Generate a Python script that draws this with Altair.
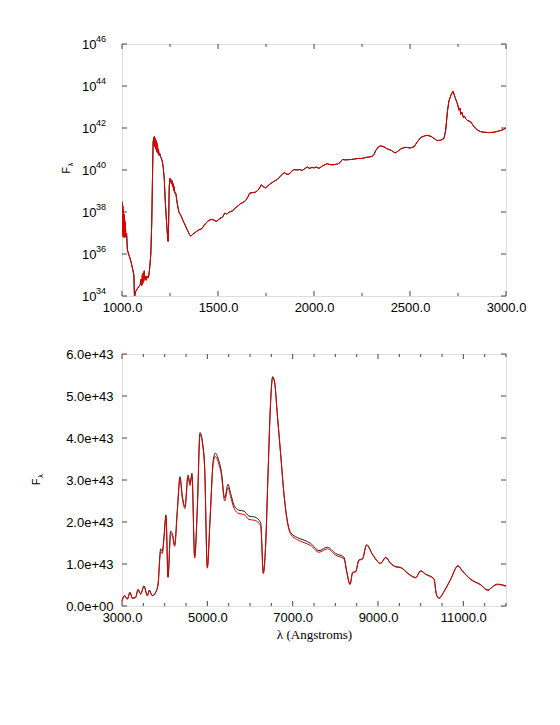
import altair as alt
import pandas as pd

# ---------------- data ----------------
TOP_WL = [1000, 1001, 1002, 1003, 1004, 1005, 1006, 1007, 1008, 1009, 1010, 1011, 1012, 1013, 1014, 1015,
          1016, 1017, 1018, 1020, 1024, 1028, 1036, 1045, 1055, 1062, 1065, 1070, 1080, 1088, 1095, 1100,
          1103, 1106, 1108, 1110, 1113, 1116, 1119, 1122, 1126, 1130, 1135, 1140, 1145, 1150, 1155, 1158,
          1162, 1165, 1167, 1169, 1171, 1173, 1175, 1177, 1179, 1181, 1183, 1185, 1187, 1190, 1193, 1196,
          1200, 1205, 1210, 1215, 1220, 1225, 1230, 1236, 1240, 1243, 1246, 1250, 1254, 1257, 1260, 1263,
          1266, 1269, 1272, 1275, 1280, 1288, 1296, 1306, 1315, 1325, 1340, 1350, 1358, 1370, 1385, 1400,
          1415, 1427, 1440, 1453, 1466, 1479, 1490, 1500, 1510, 1523, 1535, 1545, 1560, 1575, 1592, 1605,
          1618, 1630, 1644, 1655, 1665, 1680, 1696, 1710, 1720, 1726, 1735, 1748, 1760, 1774, 1790, 1809,
          1825, 1844, 1858, 1870, 1885, 1896, 1910, 1925, 1940, 1950, 1965, 1975, 1990, 2000, 2012, 2026,
          2045, 2069, 2080, 2100, 2122, 2135, 2148, 2165, 2191, 2210, 2230, 2250, 2270, 2290, 2304, 2313,
          2321, 2335, 2347, 2365, 2382, 2400, 2415, 2425, 2438, 2451, 2465, 2477, 2500, 2521, 2535, 2556,
          2575, 2590, 2610, 2625, 2642, 2660, 2677, 2686, 2695, 2703, 2715, 2724, 2735, 2747, 2755, 2760,
          2764, 2770, 2778, 2785, 2790, 2800, 2816, 2830, 2851, 2870, 2885, 2910, 2938, 2960, 2980, 3000]
TOP_EXP = [38.5, 37.2, 38.4, 36.9, 38.3, 37.1, 38.1, 36.8, 38.0, 37.0, 37.9, 36.9, 37.8, 36.8, 37.6, 37.0,
           37.5, 36.8, 37.3, 36.9, 37.0, 36.2, 35.95, 35.7, 35.3, 35.0, 33.9, 34.2, 34.35, 34.45, 34.55, 34.8,
           34.5, 35.0, 34.6, 35.1, 34.7, 35.2, 34.8, 34.95, 34.75, 34.95, 34.85, 35.0, 35.4, 36.0, 37.5, 39.2,
           41.3, 41.55, 41.2, 41.6, 41.1, 41.5, 41.0, 41.4, 40.95, 41.3, 40.85, 41.2, 40.8, 41.0, 40.7, 40.8,
           40.65, 40.55, 40.4, 40.1, 39.6, 38.6, 37.8, 37.0, 36.6, 37.5, 39.2, 39.6, 39.55, 39.35, 39.5, 39.2,
           39.35, 39.0, 39.2, 38.9, 38.9, 38.4, 38.0, 37.85, 37.65, 37.45, 37.15, 36.95, 36.85, 36.95, 37.05, 37.15,
           37.2, 37.35, 37.5, 37.6, 37.65, 37.62, 37.55, 37.6, 37.7, 37.75, 37.95, 37.9, 38.0, 38.05, 38.2, 38.3,
           38.4, 38.45, 38.55, 38.7, 38.9, 38.92, 38.95, 39.05, 39.2, 39.3, 39.2, 39.15, 39.25, 39.35, 39.45, 39.55,
           39.7, 39.88, 39.8, 39.8, 39.95, 40.02, 40.0, 40.02, 39.98, 40.05, 40.15, 40.08, 40.12, 40.1, 40.14, 40.08,
           40.2, 40.3, 40.26, 40.25, 40.28, 40.35, 40.5, 40.48, 40.5, 40.52, 40.55, 40.55, 40.6, 40.62, 40.65, 40.75,
           40.92, 41.1, 41.15, 41.1, 41.0, 40.95, 40.85, 40.82, 40.9, 41.0, 41.05, 41.08, 41.05, 41.1, 41.3, 41.55,
           41.62, 41.65, 41.6, 41.5, 41.4, 41.42, 41.5, 41.9, 42.8, 43.3, 43.6, 43.75, 43.45, 43.15, 42.85, 42.95,
           42.65, 42.75, 42.5, 42.55, 42.45, 42.35, 42.3, 42.1, 41.9, 41.82, 41.8, 41.78, 41.8, 41.85, 41.9, 42.0]

BOT_WL = [3000, 3062, 3125, 3187, 3242, 3320, 3375, 3437, 3515, 3594, 3640, 3711, 3789, 3844, 3906, 3945,
          3984, 4031, 4078, 4140, 4187, 4234, 4297, 4359, 4414, 4476, 4547, 4594, 4640, 4703, 4766, 4828,
          4890, 4937, 5000, 5062, 5140, 5187, 5273, 5328, 5406, 5484, 5547, 5625, 5742, 5859, 5976, 6109,
          6250, 6312, 6367, 6422, 6484, 6531, 6578, 6640, 6719, 6797, 6875, 6953, 7109, 7265, 7422, 7617,
          7812, 8008, 8203, 8265, 8344, 8406, 8476, 8554, 8633, 8734, 8867, 9062, 9180, 9297, 9414, 9531,
          9726, 9883, 10000, 10117, 10312, 10367, 10430, 10547, 10703, 10875, 10976, 11172, 11406, 11578,
          11680, 11797, 12000]
BOT_BLACK = [0.13, 0.25, 0.17, 0.33, 0.19, 0.21, 0.40, 0.29, 0.48, 0.25, 0.38, 0.25, 0.33, 0.52, 1.36, 1.30,
             1.66, 2.17, 0.70, 1.78, 1.70, 1.46, 2.30, 3.08, 2.62, 2.37, 3.12, 2.93, 3.16, 1.18, 2.37, 4.13,
             3.88, 3.32, 0.93, 2.05, 3.48, 3.64, 3.45, 3.21, 2.57, 2.90, 2.68, 2.40, 2.28, 2.26, 2.14, 2.12,
             1.98, 0.80, 1.48, 3.14, 4.89, 5.46, 5.33, 4.57, 3.62, 2.67, 2.03, 1.75, 1.63, 1.57, 1.49, 1.32,
             1.40, 1.25, 1.16, 0.84, 0.52, 0.80, 0.82, 1.10, 1.12, 1.46, 1.24, 1.02, 1.16, 1.02, 0.94, 0.92,
             0.76, 0.68, 0.84, 0.76, 0.65, 0.29, 0.19, 0.35, 0.64, 0.96, 0.84, 0.64, 0.51, 0.38,
             0.46, 0.52, 0.48]
BOT_RED = [0.12, 0.24, 0.16, 0.32, 0.18, 0.20, 0.38, 0.28, 0.46, 0.24, 0.36, 0.24, 0.32, 0.50, 1.30, 1.25,
           1.60, 2.12, 0.68, 1.72, 1.64, 1.42, 2.25, 3.03, 2.56, 2.32, 3.06, 2.87, 3.10, 1.14, 2.32, 4.08,
           3.83, 3.27, 0.90, 2.00, 3.42, 3.56, 3.37, 3.13, 2.50, 2.82, 2.60, 2.33, 2.20, 2.18, 2.06, 2.04,
           1.91, 0.77, 1.45, 3.12, 4.87, 5.44, 5.31, 4.55, 3.60, 2.64, 2.00, 1.71, 1.58, 1.51, 1.44, 1.28,
           1.36, 1.21, 1.12, 0.82, 0.51, 0.79, 0.81, 1.09, 1.11, 1.45, 1.23, 1.01, 1.15, 1.01, 0.93, 0.91,
           0.75, 0.67, 0.83, 0.75, 0.64, 0.28, 0.18, 0.34, 0.63, 0.95, 0.83, 0.63, 0.50, 0.37,
           0.45, 0.51, 0.47]

TOP_X_MAJOR = [1000, 1500, 2000, 2500, 3000]
TOP_X_MINOR = [1250, 1750, 2250, 2750]
TOP_Y_EXP = [34, 36, 38, 40, 42, 44, 46]
BOT_X_MAJOR = [3000, 5000, 7000, 9000, 11000]
BOT_X_MINOR = [3500, 4000, 4500, 5500, 6000, 6500, 7500, 8000, 8500, 9500, 10000, 10500, 11500, 12000]
BOT_Y_MAJOR = [0, 1, 2, 3, 4, 5, 6]  # units of 1e43

W, H = 384, 252
FONT = "Liberation Sans"
TICK_COLOR = "#444444"
RED = "#e00000"

top_df = pd.DataFrame({"wl": TOP_WL, "F": [10 ** e for e in TOP_EXP]})
bot_df = pd.DataFrame({"wl": BOT_WL,
                       "black": [v * 1e43 for v in BOT_BLACK],
                       "red": [v * 1e43 for v in BOT_RED]})


def tick_layers(xs_major, xs_minor, ys_major, xscale, yscale, xaxis, yaxis, maj=5, mnr=3):
    layers = []

    def xrule(vals, length, top):
        df = pd.DataFrame({"v": vals})
        y0 = 0 if top else H
        y1 = length if top else H - length
        return alt.Chart(df).mark_rule(color=TICK_COLOR, strokeWidth=1).encode(
            x=alt.X("v:Q", scale=xscale, axis=xaxis), y=alt.value(y0), y2=alt.value(y1))

    def yrule(vals, length, right):
        df = pd.DataFrame({"v": vals})
        x0 = W if right else 0
        x1 = W - length if right else length
        return alt.Chart(df).mark_rule(color=TICK_COLOR, strokeWidth=1).encode(
            y=alt.Y("v:Q", scale=yscale, axis=yaxis), x=alt.value(x0), x2=alt.value(x1))

    for top in (False, True):
        layers.append(xrule(xs_major, maj, top))
        if xs_minor:
            layers.append(xrule(xs_minor, mnr, top))
    for right in (False, True):
        layers.append(yrule(ys_major, maj, right))
    return layers


def ytitle(xoff, yoff):
    f = alt.Chart(alt.Data(values=[{"t": "F"}])).mark_text(
        angle=270, font=FONT, fontSize=11, align="center", baseline="middle", color="black"
    ).encode(x=alt.value(xoff), y=alt.value(yoff), text="t:N")
    lam = alt.Chart(alt.Data(values=[{"t": "λ"}])).mark_text(
        angle=270, font=FONT, fontSize=7, align="center", baseline="middle", color="black"
    ).encode(x=alt.value(xoff + 4), y=alt.value(yoff - 6), text="t:N")
    return [f, lam]


# ---------------- top panel ----------------
tx = alt.Scale(domain=[1000, 3000], nice=False, zero=False)
ty = alt.Scale(type="log", domain=[1e34, 1e46], nice=False)

top_x_axis = alt.Axis(values=TOP_X_MAJOR, format=".1f", title=None, ticks=False, domain=False, grid=False,
                      labelFont=FONT, labelFontSize=13, labelColor="black", labelPadding=5,
                      labelFlush=False, labelOverlap=False)
top_y_axis = alt.Axis(values=[10 ** e for e in TOP_Y_EXP], labelExpr="'10'", title=None, ticks=False,
                      domain=False, grid=False, labelFont=FONT, labelFontSize=13, labelColor="black",
                      labelPadding=26, labelFlush=False, labelOverlap=False)

top_black = alt.Chart(top_df).mark_line(color="black", strokeWidth=1, clip=True).encode(
    x=alt.X("wl:Q", scale=tx, axis=top_x_axis), y=alt.Y("F:Q", scale=ty, axis=top_y_axis))
top_red = alt.Chart(top_df).mark_line(color=RED, strokeWidth=1, clip=True).encode(
    x=alt.X("wl:Q", scale=tx, axis=top_x_axis), y=alt.Y("F:Q", scale=ty, axis=top_y_axis))

exp_df = pd.DataFrame({"F": [10 ** e for e in TOP_Y_EXP], "t": [str(e) for e in TOP_Y_EXP]})
top_exp = alt.Chart(exp_df).mark_text(font=FONT, fontSize=9, align="left", baseline="alphabetic",
                                      dy=-2, color="black").encode(
    y=alt.Y("F:Q", scale=ty, axis=top_y_axis), x=alt.value(-26), text="t:N")

top = alt.layer(
    top_black, top_red, top_exp,
    *tick_layers(TOP_X_MAJOR, TOP_X_MINOR, [10 ** e for e in TOP_Y_EXP], tx, ty, top_x_axis, top_y_axis),
    *ytitle(-55, 126.5)
).properties(width=W, height=H)

# ---------------- bottom panel ----------------
bx = alt.Scale(domain=[3000, 12000], nice=False, zero=False)
by = alt.Scale(domain=[0, 6e43], nice=False)

bot_x_axis = alt.Axis(values=BOT_X_MAJOR, format=".1f", title="λ (Angstroms)", ticks=False, domain=False,
                      grid=False, labelFont=FONT, labelFontSize=13, labelColor="black", labelPadding=5,
                      labelFlush=False, labelOverlap=False, titleFont="Liberation Serif", titleFontSize=13,
                      titleFontWeight="normal", titleColor="black", titlePadding=4)
bot_y_axis = alt.Axis(values=[v * 1e43 for v in BOT_Y_MAJOR],
                      labelExpr="datum.value == 0 ? '0.0e+00' : format(datum.value, '.1e')",
                      title=None, ticks=False, domain=False, grid=False, labelFont=FONT, labelFontSize=13,
                      labelColor="black", labelPadding=9, labelFlush=False, labelOverlap=False)

bot_black = alt.Chart(bot_df).mark_line(color="#222222", strokeWidth=1, interpolate="monotone").encode(
    x=alt.X("wl:Q", scale=bx, axis=bot_x_axis), y=alt.Y("black:Q", scale=by, axis=bot_y_axis))
bot_red = alt.Chart(bot_df).mark_line(color=RED, strokeWidth=1, interpolate="monotone").encode(
    x=alt.X("wl:Q", scale=bx, axis=bot_x_axis), y=alt.Y("red:Q", scale=by, axis=bot_y_axis))

bottom = alt.layer(
    bot_black, bot_red,
    *tick_layers(BOT_X_MAJOR, BOT_X_MINOR, [v * 1e43 for v in BOT_Y_MAJOR], bx, by, bot_x_axis, bot_y_axis),
    *ytitle(-85.5, 128)
).properties(width=W, height=H)

chart = alt.vconcat(top, bottom, spacing=58, bounds="flush").properties(
    padding={"left": 22, "top": 26, "right": 5, "bottom": 5}
).configure_view(stroke="#444444", strokeWidth=1).configure(background="white")

chart.save("out.html", embed_options={"renderer": "svg", "actions": False})
